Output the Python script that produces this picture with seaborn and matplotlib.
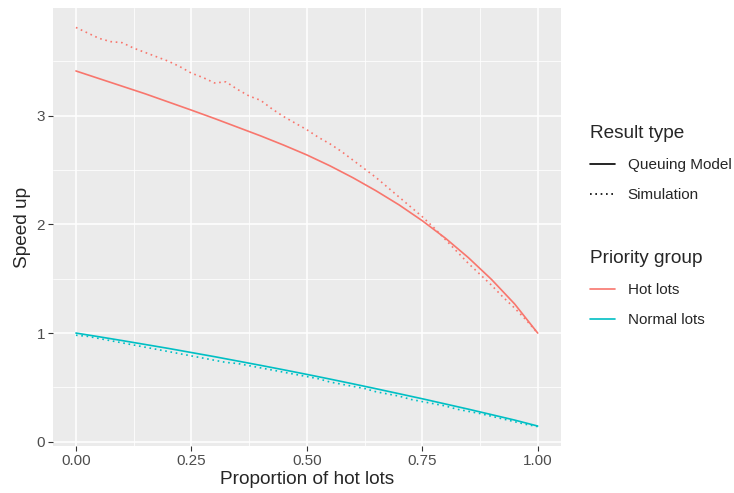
import seaborn as sns
import matplotlib.pyplot as plt
import pandas as pd
from matplotlib.lines import Line2D

# Модель: шаг 0.05
prop_model = [0.00, 0.05, 0.10, 0.15, 0.20, 0.25, 0.30, 0.35, 0.40, 0.45, 0.50,
              0.55, 0.60, 0.65, 0.70, 0.75, 0.80, 0.85, 0.90, 0.95, 1.00]
hot_model = [3.41, 3.34, 3.27, 3.20, 3.125, 3.05, 2.973, 2.893, 2.813, 2.728, 2.638,
             2.538, 2.428, 2.308, 2.178, 2.033, 1.873, 1.693, 1.493, 1.268, 1.00]
normal_model = [1.00, 0.966, 0.931, 0.895, 0.859, 0.821, 0.783, 0.743, 0.703, 0.662, 0.620,
                0.577, 0.533, 0.488, 0.442, 0.396, 0.348, 0.300, 0.250, 0.200, 0.145]

# Симуляция: шаг 0.025
prop_sim = [0.000, 0.025, 0.050, 0.075, 0.100, 0.125, 0.150, 0.175, 0.200, 0.225,
            0.250, 0.275, 0.300, 0.325, 0.350, 0.375, 0.400, 0.425, 0.450, 0.475,
            0.500, 0.525, 0.550, 0.575, 0.600, 0.625, 0.650, 0.675, 0.700, 0.725,
            0.750, 0.775, 0.800, 0.825, 0.850, 0.875, 0.900, 0.925, 0.950, 0.975, 1.000]
hot_sim = [3.81, 3.76, 3.71, 3.68, 3.67, 3.62, 3.58, 3.54, 3.50, 3.45,
           3.39, 3.35, 3.30, 3.31, 3.24, 3.18, 3.14, 3.06, 2.99, 2.93,
           2.87, 2.80, 2.74, 2.67, 2.59, 2.51, 2.43, 2.34, 2.25, 2.16,
           2.07, 1.97, 1.86, 1.75, 1.64, 1.54, 1.44, 1.33, 1.23, 1.12, 1.00]
normal_sim = [0.98, 0.97, 0.95, 0.93, 0.91, 0.89, 0.87, 0.85, 0.83, 0.81,
              0.79, 0.77, 0.75, 0.73, 0.72, 0.70, 0.68, 0.66, 0.64, 0.62,
              0.60, 0.58, 0.55, 0.53, 0.51, 0.49, 0.46, 0.44, 0.42, 0.39,
              0.37, 0.35, 0.33, 0.30, 0.28, 0.26, 0.235, 0.21, 0.185, 0.16, 0.14]

groups = ['Hot lots', 'Normal lots']
types = ['Queuing Model', 'Simulation']

# Собираем длинную таблицу
parts = []
for grp, vals in zip(groups, [hot_model, normal_model]):
    parts.append(pd.DataFrame({'prop': prop_model, 'speedup': vals,
                               'group': grp, 'type': 'Queuing Model'}))
for grp, vals in zip(groups, [hot_sim, normal_sim]):
    parts.append(pd.DataFrame({'prop': prop_sim, 'speedup': vals,
                               'group': grp, 'type': 'Simulation'}))
df = pd.concat(parts, ignore_index=True)

sns.set_style("darkgrid", {'axes.facecolor': '#EBEBEB', 'grid.color': 'white'})
plt.rcParams['font.family'] = ['Liberation Sans', 'DejaVu Sans']

palette = {'Hot lots': '#F8766D', 'Normal lots': '#00BFC4'}
dashes = {'Queuing Model': '', 'Simulation': (1, 2.2)}

fig = plt.figure(figsize=(7.34, 4.93), dpi=100)
ax = fig.add_axes([0.072, 0.095, 0.692, 0.889])

sns.lineplot(data=df, x='prop', y='speedup', hue='group', style='type',
             palette=palette, dashes=dashes, linewidth=1.2, legend=False,
             estimator=None, sort=False, ax=ax)

ax.set_xlim(-0.05, 1.05)
ax.set_ylim(-0.04, 3.99)
ax.set_xticks([0, 0.25, 0.5, 0.75, 1.0])
ax.set_xticklabels(['0.00', '0.25', '0.50', '0.75', '1.00'])
ax.set_yticks([0, 1, 2, 3])
ax.set_xticks([0.125, 0.375, 0.625, 0.875], minor=True)
ax.set_yticks([0.5, 1.5, 2.5, 3.5], minor=True)
ax.grid(which='major', color='white', linewidth=1.1)
ax.grid(which='minor', color='white', linewidth=0.55)
ax.tick_params(which='major', length=3.5, width=0.8, color='#333333',
               labelsize=11, labelcolor='#4D4D4D', pad=2, bottom=True, left=True)
ax.tick_params(which='minor', length=0)
for s in ax.spines.values():
    s.set_visible(False)

ax.set_xlabel('Proportion of hot lots', fontsize=13.7, labelpad=2)
ax.set_ylabel('Speed up', fontsize=13.7, labelpad=4)

# Две легенды как в ggplot
h_type = [Line2D([], [], color='black', lw=1.2, linestyle='-'),
          Line2D([], [], color='black', lw=1.2, dashes=(1, 2.2))]
h_grp = [Line2D([], [], color=palette[g], lw=1.2) for g in groups]

common = dict(frameon=False, fontsize=11, title_fontsize=13.7, handlelength=1.65,
              handletextpad=0.8, labelspacing=1.05, borderpad=0, alignment='left',
              loc='upper left', borderaxespad=0)
leg1 = fig.legend(h_type, types, title='Result type',
                  bbox_to_anchor=(0.804, 0.746), **common)
leg2 = fig.legend(h_grp, groups, title='Priority group',
                  bbox_to_anchor=(0.804, 0.493), **common)

plt.savefig('out.png', dpi=100)
